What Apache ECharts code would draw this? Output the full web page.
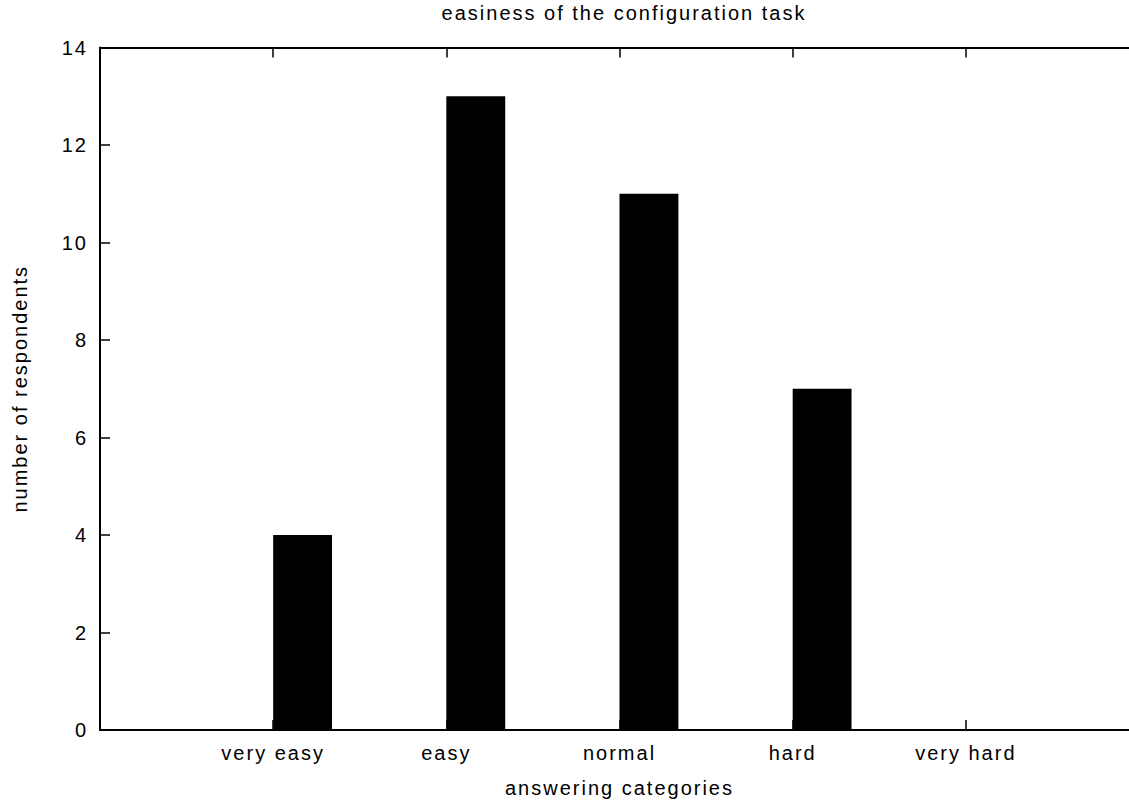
<!DOCTYPE html>
<html>
<head>
<meta charset="utf-8">
<script src="https://cdn.jsdelivr.net/npm/echarts@6/dist/echarts.min.js"></script>
<style>
  html, body { margin: 0; padding: 0; background: #fff; }
  #chart { width: 1129px; height: 808px; }
  /* wide-tracked sans text, as in the plotting terminal's output */
  #chart text { letter-spacing: 2px; }
</style>
</head>
<body>
<div id="chart"></div>
<script>
// Survey answers: how easy the configuration task was
const categories = ['very easy', 'easy', 'normal', 'hard', 'very hard'];
const respondents = [4, 13, 11, 7, 0];
const yTicks = [0, 2, 4, 6, 8, 10, 12, 14];

const FONT = 'Liberation Sans';
const FS = 20;
const BOX_WIDTH = 0.34; // box width in x units, drawn to the right of each category position

const chart = echarts.init(document.getElementById('chart'), null, { renderer: 'svg' });

const tickStyle = { show: true, inside: true, length: 10, lineStyle: { color: '#000', width: 1.5 } };
const axisLineStyle = { show: true, onZero: false, lineStyle: { color: '#000', width: 2 } };

chart.setOption({
  animation: false,
  title: {
    text: 'easiness of the configuration task',
    left: 619,
    textAlign: 'center',
    top: -2,
    textStyle: { fontFamily: FONT, fontSize: FS, fontWeight: 'normal', color: '#000' }
  },
  grid: { left: 100, top: 47.5, width: 1039, height: 682.5, outerBoundsMode: 'none', containLabel: false },
  xAxis: [
    {
      type: 'value', position: 'bottom', min: -1, max: 5, interval: 1,
      axisLine: axisLineStyle,
      axisTick: tickStyle,
      splitLine: { show: false },
      axisLabel: {
        fontFamily: FONT, fontSize: FS, color: '#000', margin: 13,
        formatter: v => (v >= 0 && v < categories.length ? categories[v] : '')
      },
      name: 'answering categories', nameLocation: 'middle', nameGap: 48,
      nameTextStyle: { fontFamily: FONT, fontSize: FS, color: '#000' }
    },
    {
      type: 'value', position: 'top', min: -1, max: 5, interval: 1,
      axisLine: axisLineStyle,
      axisTick: tickStyle,
      splitLine: { show: false },
      axisLabel: { show: false }
    }
  ],
  yAxis: {
    type: 'value', min: yTicks[0], max: yTicks[yTicks.length - 1], interval: 2,
    axisLine: axisLineStyle,
    axisTick: tickStyle,
    splitLine: { show: false },
    axisLabel: {
      fontFamily: FONT, fontSize: FS, color: '#000', margin: 12,
      formatter: v => (yTicks.includes(v) ? String(v) : '')
    },
    name: 'number of respondents', nameLocation: 'middle', nameGap: 70, nameRotate: 90,
    nameTextStyle: { fontFamily: FONT, fontSize: FS, color: '#000' }
  },
  series: [{
    type: 'custom',
    xAxisIndex: 0,
    data: respondents.map((v, i) => [i, v]),
    renderItem: (params, api) => {
      const x = api.value(0);
      const v = api.value(1);
      const p0 = api.coord([x, v]);
      const p1 = api.coord([x + BOX_WIDTH, 0]);
      return {
        type: 'rect',
        shape: { x: p0[0], y: p0[1], width: p1[0] - p0[0], height: p1[1] - p0[1] },
        style: { fill: '#000' }
      };
    }
  }]
});
</script>
</body>
</html>
